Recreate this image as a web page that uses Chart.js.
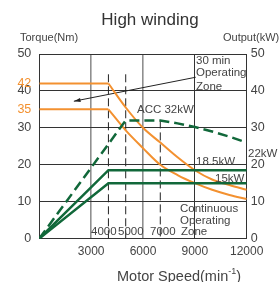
<!DOCTYPE html>
<html>
<head>
<meta charset="utf-8">
<script src="https://cdn.jsdelivr.net/npm/chart.js@4.4.1/dist/chart.umd.min.js"></script>
<style>
  html, body { margin: 0; padding: 0; background: #fff; }
</style>
</head>
<body>
<canvas id="chart" width="279" height="282"></canvas>
<script>
// torque curves (Nm) vs speed (min-1)
const speedFlat = [0, 4000];
const torque30Flat = [42, 42];
const torqueContFlat = [35, 35];
const curveSpeed = [4000, 5000, 6000, 7000, 8000, 9000, 10000, 11000, 12000];
const torque30Curve = [42, 35.5, 30, 26, 22, 18.5, 16, 14.5, 13.2];
const torqueContCurve = [35, 29.3, 24.5, 20, 17.2, 15, 13.2, 11.8, 10.7];

// output curves (kW)
const accSpeed = [0, 5000, 7000, 8000, 9000, 10000, 11000, 12000];
const accPower = [0, 32, 32, 31.2, 30.2, 29, 27.6, 26];
const ratedSpeed = [0, 4000, 12000];
const power185 = [0, 18.5, 18.5];
const power15 = [0, 15, 15];

// dashed speed markers and the zone arrow
const markerSpeeds = [4000, 5000, 7000];
const markerTops = [44.5, 44.5, 32];
const arrowSpeed = [9050, 2000];
const arrowTorque = [43.7, 37.2];

// ticks
const torqueTicks = [0, 10, 20, 30, 35, 40, 42, 50];
const highlightTicks = [35, 42];
const outputTicks = [0, 10, 20, 30, 40, 50];
const speedTicks = [0, 3000, 6000, 9000, 12000];

const ORANGE = "#f39130";
const GREEN = "#11683a";
const TEXT = "#444";
const FONT = '"Liberation Sans", Arial, sans-serif';

const pts = (xs, ys) => xs.map((x, i) => ({ x: x, y: ys[i] }));

const datasets = [
  { data: pts(accSpeed, accPower), yAxisID: "y2", borderColor: GREEN, borderWidth: 2.5, borderDash: [10, 5] },
  { data: pts(ratedSpeed, power185), yAxisID: "y2", borderColor: GREEN, borderWidth: 2.5 },
  { data: pts(ratedSpeed, power15), yAxisID: "y2", borderColor: GREEN, borderWidth: 2.5 },
  { data: pts(speedFlat, torque30Flat), yAxisID: "y", borderColor: ORANGE, borderWidth: 2 },
  { data: pts(speedFlat, torqueContFlat), yAxisID: "y", borderColor: ORANGE, borderWidth: 2 },
  { data: pts(curveSpeed, torque30Curve), yAxisID: "y", borderColor: ORANGE, borderWidth: 2, cubicInterpolationMode: "monotone" },
  { data: pts(curveSpeed, torqueContCurve), yAxisID: "y", borderColor: ORANGE, borderWidth: 2, cubicInterpolationMode: "monotone" },
  { data: pts(arrowSpeed, arrowTorque), yAxisID: "y", borderColor: "#222", borderWidth: 1, isArrow: true },
];
markerSpeeds.forEach((s, i) => {
  datasets.push({
    data: pts([s, s], [markerTops[i], 0]),
    yAxisID: "y",
    borderColor: "#222",
    borderWidth: 1,
    borderDash: [8, 4],
  });
});

const textPlugin = {
  id: "chartText",
  afterDraw(chart) {
    const ctx = chart.ctx;
    ctx.save();
    ctx.textBaseline = "middle";

    // arrow head at the left end of the zone pointer
    const arrowMeta = chart.getDatasetMeta(datasets.findIndex((d) => d.isArrow));
    const p0 = arrowMeta.data[0], p1 = arrowMeta.data[1];
    const ang = Math.atan2(p1.y - p0.y, p1.x - p0.x);
    ctx.fillStyle = "#222";
    ctx.beginPath();
    ctx.moveTo(p1.x, p1.y);
    ctx.lineTo(p1.x - 7 * Math.cos(ang - 0.3), p1.y - 7 * Math.sin(ang - 0.3));
    ctx.lineTo(p1.x - 7 * Math.cos(ang + 0.3), p1.y - 7 * Math.sin(ang + 0.3));
    ctx.closePath();
    ctx.fill();

    ctx.fillStyle = "#333";
    ctx.textAlign = "center";
    ctx.font = "17px " + FONT;
    ctx.fillText("High winding", 150, 20);

    ctx.textAlign = "left";
    ctx.fillStyle = TEXT;
    ctx.font = "11px " + FONT;
    ctx.fillText("Torque(Nm)", 20, 38);
    ctx.fillText("Output(kW)", 223, 38);

    ctx.font = "11.5px " + FONT;
    const notes = [
      ["30 min", 196, 61], ["Operating", 196, 73], ["Zone", 196, 87],
      ["ACC 32kW", 137, 110],
      ["18.5kW", 196, 162], ["15kW", 215, 179], ["22kW", 248, 154],
      ["Continuous", 180, 209], ["Operating", 180, 221], ["Zone", 181, 232],
      ["4000", 91, 232], ["5000", 118, 232], ["7000", 150, 232],
    ];
    notes.forEach(([t, x, y]) => ctx.fillText(t, x, y));

    // x axis title with superscript
    ctx.font = "14.5px " + FONT;
    const main = "Motor Speed(min";
    let x = 117;
    ctx.fillText(main, x, 277);
    x += ctx.measureText(main).width;
    ctx.font = "9px " + FONT;
    ctx.fillText("-1", x, 272);
    x += ctx.measureText("-1").width;
    ctx.font = "14.5px " + FONT;
    ctx.fillText(")", x, 277);
    ctx.restore();
  },
};

new Chart(document.getElementById("chart"), {
  type: "line",
  data: { datasets },
  options: {
    responsive: false,
    animation: false,
    parsing: true,
    elements: { point: { radius: 0 }, line: { tension: 0, fill: false } },
    layout: { padding: { top: 54, left: 0, right: 0, bottom: 0 } },
    plugins: { legend: { display: false }, tooltip: { enabled: false } },
    scales: {
      x: {
        type: "linear",
        min: 0,
        max: 12000,
        afterBuildTicks: (s) => { s.ticks = speedTicks.map((v) => ({ value: v })); },
        afterFit: (s) => { s.height = 43.5; },
        border: { color: "#333", width: 1 },
        grid: {
          drawTicks: false,
          color: (c) => ([3000, 6000].includes(c.tick.value) ? "#8f8f8f" : "#333"),
          lineWidth: (c) => ([3000, 6000].includes(c.tick.value) ? 1.6 : 1),
        },
        ticks: {
          padding: 6,
          maxRotation: 0,
          color: TEXT,
          font: { family: FONT, size: 12 },
          callback: (v) => (v === 0 ? "" : String(v)),
        },
      },
      y: {
        position: "left",
        min: 0,
        max: 50,
        afterBuildTicks: (s) => { s.ticks = torqueTicks.map((v) => ({ value: v })); },
        afterFit: (s) => { s.width = 39.3; },
        border: { color: "#333", width: 1 },
        grid: {
          drawTicks: false,
          color: (c) => (highlightTicks.includes(c.tick.value) ? "rgba(0,0,0,0)" : "#333"),
        },
        ticks: {
          padding: 8,
          color: (c) => (highlightTicks.includes(c.tick.value) ? ORANGE : TEXT),
          font: { family: FONT, size: 12.5 },
        },
      },
      y2: {
        position: "right",
        min: 0,
        max: 50,
        afterBuildTicks: (s) => { s.ticks = outputTicks.map((v) => ({ value: v })); },
        afterFit: (s) => { s.width = 32.3; },
        border: { color: "#333", width: 1 },
        grid: { display: false, drawTicks: false },
        ticks: {
          padding: 4,
          color: TEXT,
          font: { family: FONT, size: 12.5 },
        },
      },
    },
  },
  plugins: [textPlugin],
});
</script>
</body>
</html>
